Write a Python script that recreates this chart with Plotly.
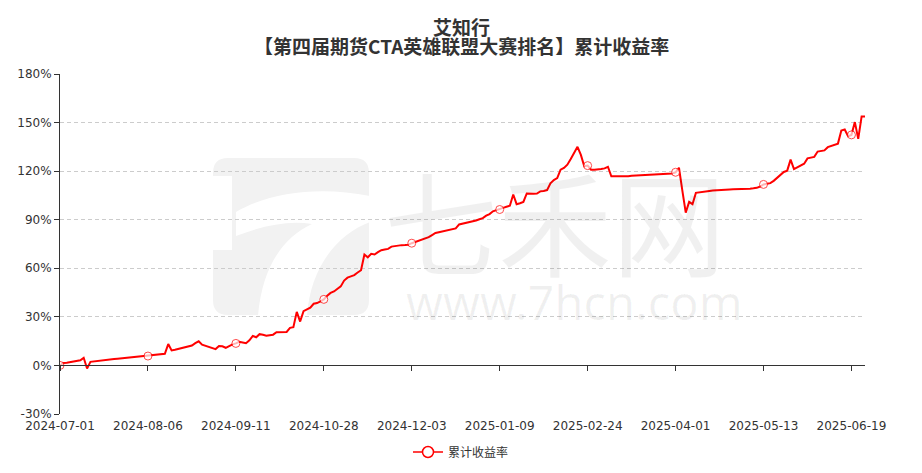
import plotly.graph_objects as go
import pandas as pd

# ---------------- data ----------------
title_name = "艾知行"
title_sub = "【第四届期货CTA英雄联盟大赛排名】累计收益率"
series_name = "累计收益率"

start_date = "2024-07-01"
end_date = "2025-06-25"
# exchange holidays (weekdays closed) in the period
holidays = [
    "2024-09-16", "2024-09-17",
    "2024-10-01", "2024-10-02", "2024-10-03", "2024-10-04", "2024-10-07",
    "2025-01-01",
    "2025-01-28", "2025-01-29", "2025-01-30", "2025-01-31", "2025-02-03", "2025-02-04",
    "2025-04-04",
    "2025-05-01", "2025-05-02", "2025-05-05",
    "2025-06-02",
]

tick_labels = ["2024-07-01", "2024-08-06", "2024-09-11", "2024-10-28", "2024-12-03",
               "2025-01-09", "2025-02-24", "2025-04-01", "2025-05-13", "2025-06-19"]
y_ticks = [-30, 0, 30, 60, 90, 120, 150, 180]
y_tick_text = ["-30%", "0%", "30%", "60%", "90%", "120%", "150%", "180%"]

cum_return = [
    0.0, 1.5, 1.7, 2.0, 2.4, 2.8, 3.2, 4.7, -1.9, 2.2,
    2.5, 2.9, 3.2, 3.4, 3.6, 3.8, 4.0, 4.2, 4.4, 4.6,
    4.8, 5.0, 5.2, 5.4, 5.5, 5.6, 5.8, 6.0, 6.3, 6.6,
    6.9, 7.2, 13.2, 9.3, 9.7, 10.2, 10.8, 11.4, 11.9, 12.3,
    13.8, 14.9, 12.8, 12.1, 11.5, 10.8, 10.1, 12.0, 11.8, 10.9,
    12.0, 13.0, 13.6, 14.6, 14.2, 13.7, 15.5, 18.2, 17.4, 19.3,
    19.0, 18.4, 18.7, 19.0, 20.5, 20.5, 20.5, 20.7, 23.2, 23.6,
    33.1, 27.1, 33.5, 34.5, 35.7, 38.1, 38.5, 39.6, 40.8, 43.0,
    44.8, 45.7, 47.0, 48.8, 52.4, 54.2, 55.0, 55.8, 57.4, 58.8,
    68.5, 66.8, 68.9, 68.5, 70.0, 71.2, 71.6, 72.0, 73.4, 73.8,
    74.0, 74.3, 74.4, 74.6, 75.5, 76.2, 77.2, 78.0, 78.6, 79.2,
    80.5, 81.8, 82.3, 82.7, 83.0, 83.4, 84.0, 84.6, 87.1, 87.6,
    88.1, 88.4, 88.8, 89.5, 90.3, 91.0, 92.5, 93.5, 95.2, 95.8,
    96.3, 97.3, 98.0, 98.6, 105.6, 99.6, 100.2, 101.0, 106.2, 106.0,
    106.0, 106.2, 107.5, 107.8, 108.3, 112.5, 114.5, 115.7, 120.9, 122.0,
    124.0, 127.5, 131.5, 135.0, 130.0, 123.0, 123.4, 120.9, 120.9, 121.0,
    121.3, 121.7, 122.7, 116.8, 116.8, 116.7, 116.8, 116.8, 116.8, 117.2,
    117.3, 117.4, 117.5, 117.5, 117.6, 117.6, 118.0, 118.1, 118.2, 118.3,
    118.5, 118.6, 119.3, 122.1, 108.0, 94.4, 101.0, 99.6, 106.6, 106.8,
    107.0, 107.2, 107.8, 108.1, 108.3, 108.4, 108.5, 108.7, 108.7, 108.8,
    108.8, 108.8, 108.9, 108.9, 109.2, 109.4, 109.7, 110.5, 111.8, 112.2,
    112.6, 114.0, 115.8, 118.2, 119.5, 120.3, 127.1, 121.3, 122.5, 123.6,
    124.6, 127.9, 128.3, 128.8, 132.1, 132.3, 132.8, 134.8, 135.5, 136.2,
    137.0, 145.1, 145.7, 141.6, 142.4, 150.3, 139.9, 153.8, 153.8,
]

# ---------------- build ----------------
days = pd.bdate_range(start_date, end_date)
dates = [d.strftime("%Y-%m-%d") for d in days if d.strftime("%Y-%m-%d") not in holidays]
n = min(len(dates), len(cum_return))
dates = dates[:n]
values = cum_return[:n]
tick_idx = [dates.index(t) for t in tick_labels if t in dates]
marker_sizes = [8 if i in tick_idx else 0 for i in range(n)]

RED = "#ff0000"
FONT = "DejaVu Sans"
CJK = "Noto Sans CJK SC"

# plot area in pixels (for decoration placement)
PL, PR, PT, PB = 60, 865, 74, 414
W, H = 922, 473


def px(x):
    return (x - PL) / (PR - PL)


def py(y):
    return (PB - y) / (PB - PT)


def path(cmds):
    out = []
    for c in cmds:
        if isinstance(c, str):
            out.append(c)
        else:
            out.append("%.5f,%.5f" % (px(c[0]), py(c[1])))
    return " ".join(out)


fig = go.Figure()

fig.add_trace(go.Scatter(
    x=dates, y=values, name=series_name, mode="lines+markers", showlegend=False,
    line=dict(color=RED, width=2),
    marker=dict(size=marker_sizes, color="#ffffff", symbol="circle",
                line=dict(color=RED, width=1)),
    hovertemplate="%{x}<br>%{y:.2f}%<extra></extra>",
))
# legend entry (line with hollow circle)
fig.add_trace(go.Scatter(
    x=[None], y=[None], name=series_name, mode="lines+markers", showlegend=True,
    line=dict(color=RED, width=1.5),
    marker=dict(size=11, color="#ffffff", symbol="circle", line=dict(color=RED, width=1.5)),
    hoverinfo="skip",
))
# helper trace for the zero-line axis
fig.add_trace(go.Scatter(x=[None], y=[None], xaxis="x2", showlegend=False,
                         hoverinfo="skip"))

# watermark logo (decoration)
x0, x1, y0, y1, r = 213, 369, 158, 315, 15
logo = path(["M", (x0 + r, y0), "L", (x1 - r, y0), "Q", (x1, y0), (x1, y0 + r),
             "L", (x1, y1 - r), "Q", (x1, y1), (x1 - r, y1),
             "L", (x0 + r, y1), "Q", (x0, y1), (x0, y1 - r),
             "L", (x0, y0 + r), "Q", (x0, y0), (x0 + r, y0), "Z"])
notch = path(["M", (x0 - 1, 176), "L", (232, 176), "L", (232, 250), "L", (x0 - 1, 250), "Z"])
seven = path(["M", (236, 212), "C", (270, 192), (320, 186), (x1 + 1, 196),
              "L", (x1 + 1, 222), "C", (335, 235), (310, 270), (307, y1 + 1),
              "L", (258, y1 + 1), "C", (262, 268), (282, 238), (312, 224),
              "C", (288, 220), (262, 226), (236, 236), "Z"])
shapes = [
    dict(type="path", path=logo, xref="paper", yref="paper",
         fillcolor="#f2f2f2", line=dict(width=0), layer="below"),
    dict(type="path", path=notch, xref="paper", yref="paper",
         fillcolor="white", line=dict(width=0), layer="below"),
    dict(type="path", path=seven, xref="paper", yref="paper",
         fillcolor="white", line=dict(width=0), layer="below"),
]

annotations = [
    dict(text="<b>%s</b>" % title_name, x=px(461), y=py(26), xref="paper", yref="paper",
         showarrow=False, xanchor="center", yanchor="middle",
         font=dict(family=CJK, size=19, color="#333333")),
    dict(text="<b>%s</b>" % title_sub, x=px(461), y=py(45), xref="paper", yref="paper",
         showarrow=False, xanchor="center", yanchor="middle",
         font=dict(family=CJK, size=19, color="#333333")),
    dict(text="七禾网", x=px(555), y=py(218), xref="paper", yref="paper",
         showarrow=False, xanchor="center", yanchor="middle",
         font=dict(family=CJK, size=114, color="rgba(0,0,0,0.06)")),
    dict(text="www.7hcn.com", x=px(574), y=py(302), xref="paper", yref="paper",
         showarrow=False, xanchor="center", yanchor="middle",
         font=dict(family="Noto Sans", size=47, color="rgba(0,0,0,0.06)")),
]

zero_pos = (0 - y_ticks[0]) / (y_ticks[-1] - y_ticks[0])

fig.update_layout(
    width=W, height=H,
    margin=dict(l=PL, r=W - PR, t=PT, b=H - PB, pad=0, autoexpand=False),
    paper_bgcolor="white", plot_bgcolor="white",
    showlegend=True,
    legend=dict(orientation="h", x=px(461), xanchor="center", y=py(452), yanchor="middle",
                font=dict(family=CJK, size=12, color="#333333"),
                bgcolor="rgba(0,0,0,0)"),
    xaxis=dict(type="category", range=[0, n - 1], tickmode="array", tickvals=tick_labels,
               ticktext=tick_labels, showgrid=False, zeroline=False, showline=False,
               ticks="", ticklabelstandoff=3, automargin=False,
               tickfont=dict(family=FONT, size=12, color="#333333")),
    xaxis2=dict(type="linear", overlaying="x", anchor="free", position=zero_pos,
                range=[0, n - 1], tickmode="array", tickvals=tick_idx,
                showticklabels=False, showgrid=False, zeroline=False,
                showline=True, linecolor="#333333", linewidth=1,
                ticks="outside", ticklen=5, tickcolor="#333333", tickwidth=1),
    yaxis=dict(range=[y_ticks[0], y_ticks[-1]], tickmode="array", tickvals=y_ticks,
               ticktext=y_tick_text, showgrid=True, gridcolor="#cccccc",
               griddash="4px,3px", gridwidth=1, zeroline=False, showline=True,
               linecolor="#333333", linewidth=1, ticks="outside", ticklen=5,
               tickcolor="#333333", automargin=False,
               tickfont=dict(family=FONT, size=12, color="#333333")),
    shapes=shapes,
    annotations=annotations,
    hovermode="x",
)

fig.write_html("out.html", config={"displayModeBar": False},
               post_script="document.body.style.margin='0';")
